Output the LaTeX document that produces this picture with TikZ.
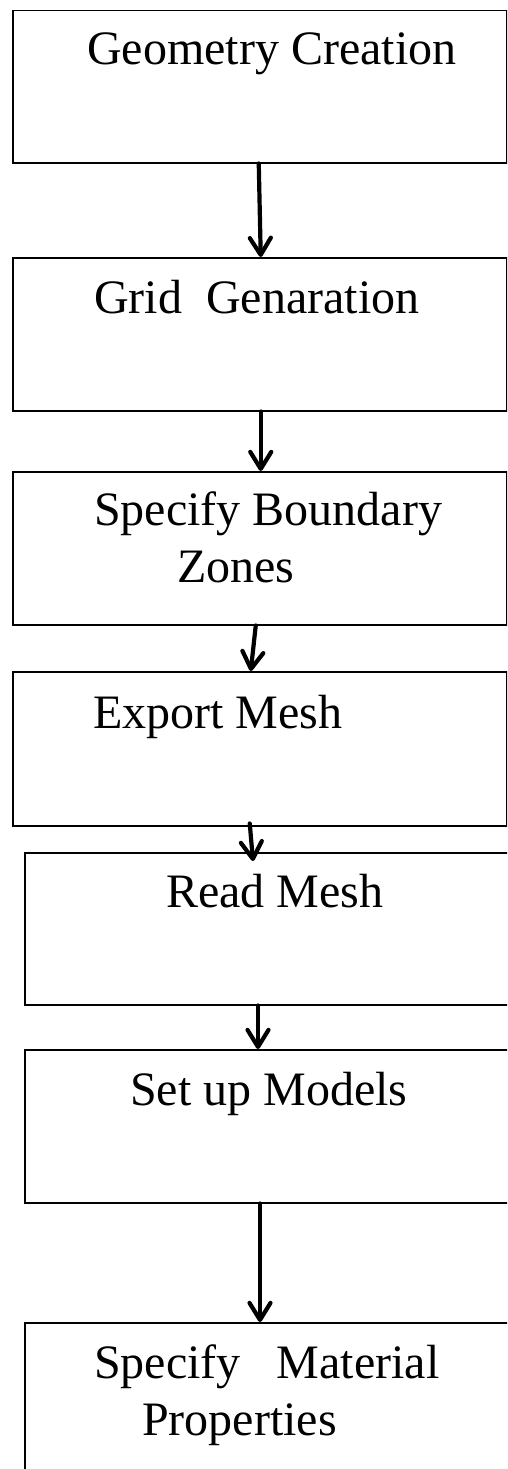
\documentclass[tikz,border=0pt]{standalone}
\usepackage{fontspec}
\setmainfont{Liberation Serif}
\usetikzlibrary{arrows.meta}

\tikzset{
  stepbox/.style={draw=black, line width=1.5pt, rectangle, inner sep=0pt,
                  anchor=north west, minimum height=#1},
  stepbox/.default=153pt,
  steptext/.style={anchor=base west, inner sep=0pt,
                   font=\fontsize{48}{56}\selectfont},
  flow/.style={-{Straight Barb[length=17pt,width=21pt,round]},
               line width=4.2pt, line cap=round},
}

\begin{document}
\begin{tikzpicture}[x=1pt,y=-1pt]
  \useasboundingbox (0,0) rectangle (507,1469);
  \clip (0,0) rectangle (507,1469);
  \fill[white] (0,0) rectangle (507,1469);

  % process boxes
  \node[stepbox=152pt, minimum width=494pt] (b1) at (12,10) {};
  \node[stepbox=153pt, minimum width=494pt] (b2) at (12,257) {};
  \node[stepbox=153pt, minimum width=494pt] (b3) at (12,471) {};
  \node[stepbox=154pt, minimum width=494pt] (b4) at (12,671) {};
  \node[stepbox=152pt, minimum width=500pt] (b5) at (24,852) {};
  \node[stepbox=153pt, minimum width=500pt] (b6) at (24,1049) {};
  \node[stepbox=200pt, minimum width=500pt] (b7) at (24,1322) {};

  % box captions
  \node[steptext] (t1) at (87,65) {Geometry Creation};
  \node[steptext] (t2) at (94,313) {Grid\ \ Genaration};
  \node[steptext] (t3a) at (94,525) {Specify Boundary};
  \node[steptext] (t3b) at (177,582) {Zones};
  \node[steptext] (t4) at (93,728) {Export Mesh};
  \node[steptext] (t5) at (166,907) {Read Mesh};
  \node[steptext] (t6) at (130,1105) {Set up Models};
  \node[steptext] (t7a) at (94,1378) {Specify\ \ \ Material};
  \node[steptext] (t7b) at (142,1435) {Properties};

  % flow arrows
  \draw[flow] ([xshift=-1pt]b1.south) -- ([xshift=1pt]b2.north);
  \draw[flow] ([xshift=1pt]b2.south) -- ([xshift=1pt]b3.north);
  \draw[flow] ([xshift=-4pt]b3.south) -- ([xshift=-9pt]b4.north);
  \draw[flow] ([xshift=-10pt,yshift=3pt]b4.south) -- ([xshift=229pt,yshift=-9pt]b5.north west);
  \draw[flow] ([xshift=234pt]b5.south west) -- ([xshift=234pt]b6.north west);
  \draw[flow] ([xshift=236pt]b6.south west) -- ([xshift=236pt]b7.north west);
\end{tikzpicture}
\end{document}
